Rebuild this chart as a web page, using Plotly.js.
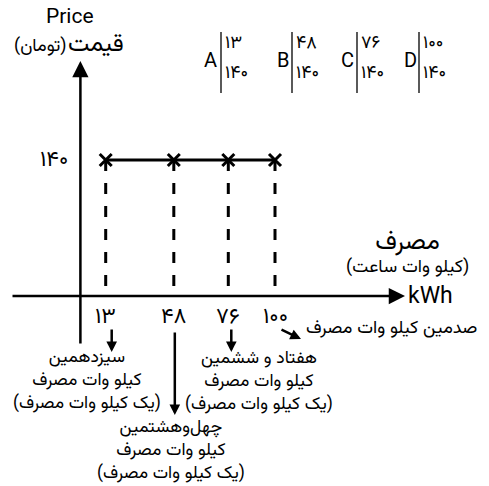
<!DOCTYPE html>
<html>
<head>
<meta charset="utf-8">
<script src="https://cdn.plot.ly/plotly-3.0.1.min.js"></script>
<style>html,body{margin:0;padding:0;background:#fff;}</style>
</head>
<body>
<div id="chart" style="width:489px;height:486px;"></div>
<script>
// ---- data ----
const consumption = [13, 48, 76, 100];
const price = [140, 140, 140, 140];
const consumptionLabels = ['۱۳', '۴۸', '۷۶', '۱۰۰'];
const priceLabel = '۱۴۰';
const pointLetters = ['A', 'B', 'C', 'D'];
const ordinalTexts = [
  ['سیزدهمین', 'کیلو وات مصرف', '(یک کیلو وات مصرف)'],
  ['چهل\u200cوهشتمین', 'کیلو وات مصرف', '(یک کیلو وات مصرف)'],
  ['هفتاد و ششمین', 'کیلو وات مصرف', '(یک کیلو وات مصرف)'],
  ['صدمین کیلو وات مصرف']
];
const yTitleLatin = 'Price';
const yTitleFa = 'قیمت';
const yUnitFa = '(تومان)';
const xTitleFa = 'مصرف';
const xUnitFa = '(کیلو وات ساعت)';
const xTitleLatin = 'kWh';

// ---- geometry helpers (layout only) ----
const W = 489, H = 486;
const OX = 80.4, KX = 1.946, OY = 296, KY = 0.9714;
const xr = [-OX / KX, (W - OX) / KX];
const yr = [-(H - OY) / KY, OY / KY];
const dx = px => (px - OX) / KX;
const dy = py => (OY - py) / KY;
const xp = px => px / W;
const yp = py => 1 - py / H;
const RLM = '\u200F';
const rtl = s => RLM + s + RLM;

const FA = 'Vazirmatn, Noto Sans Arabic, DejaVu Sans, sans-serif';
const LAT = 'Vazirmatn, Roboto, Liberation Sans, sans-serif';

const traces = [];
consumption.forEach((c, i) => {
  traces.push({
    x: [c, c], y: [price[i], 0], mode: 'lines', type: 'scatter',
    line: {color: '#000', width: 3, dash: '11px,12px'},
    hoverinfo: 'skip', showlegend: false
  });
});
traces.push({
  x: consumption, y: price, mode: 'lines+markers', type: 'scatter',
  line: {color: '#000', width: 3},
  marker: {symbol: 'x-thin', size: 12, color: '#000', line: {color: '#000', width: 3}},
  showlegend: false, hoverinfo: 'skip'
});

const ann = [];
const arrow = (x, y, ax, ay, size) => ({
  x, y, ax, ay, xref: 'x', yref: 'y', axref: 'x', ayref: 'y', text: '',
  showarrow: true, arrowhead: 2, arrowsize: size, arrowwidth: 2.5,
  arrowcolor: '#000', standoff: 0, startstandoff: 0
});
ann.push(arrow(dx(405), 0, dx(11), 0, 1.3));
ann.push(arrow(0, dy(61), 0, dy(345), 1.3));

const txt = (text, x, y, size, font, opts) => Object.assign({
  text, x, y, xref: 'paper', yref: 'paper', showarrow: false,
  xanchor: 'center', yanchor: 'middle',
  font: {family: font, size, color: '#000'}
}, opts || {});

ann.push(txt(yTitleLatin, xp(70), yp(18), 21, LAT));
ann.push(txt(yTitleFa, xp(66), yp(45), 24, FA, {xanchor: 'left'}));
ann.push(txt(rtl(yUnitFa), xp(68), yp(47), 18, FA, {xanchor: 'right'}));
ann.push(txt('<span style="font-size:25px">' + xTitleFa + '</span><br>' + rtl(xUnitFa),
  xp(407), yp(252), 18, FA));
ann.push(txt(xTitleLatin, xp(406), yp(297), 23, LAT, {xanchor: 'left'}));

ann.push({text: priceLabel, x: 0, y: price[0], xref: 'x', yref: 'y', xanchor: 'right',
  yanchor: 'middle', xshift: -10, showarrow: false, font: {family: FA, size: 22, color: '#000'}});

consumption.forEach((c, i) => {
  ann.push({text: consumptionLabels[i], x: c, y: 0, xref: 'x', yref: 'y', xanchor: 'center',
    yanchor: 'middle', yshift: -21, showarrow: false, font: {family: FA, size: 22, color: '#000'}});
});

ann.push(arrow(consumption[0] + 6 / KX, dy(352), consumption[0] + 6 / KX, dy(328), 0.85));
ann.push(arrow(consumption[1] + 1 / KX, dy(415), consumption[1] + 1 / KX, dy(331), 0.85));
ann.push(arrow(consumption[2] + 3 / KX, dy(352), consumption[2] + 3 / KX, dy(328), 0.85));
ann.push(arrow(consumption[3] + 26 / KX, dy(339), consumption[3] + 5 / KX, dy(329), 0.85));

const blockPos = [[87, 380], [171, 450], [259, 381]];
blockPos.forEach((p, i) => {
  ann.push(txt(ordinalTexts[i].map(rtl).join('<br>'), xp(p[0]), yp(p[1]), 17.5, FA));
});
ann.push(txt(rtl(ordinalTexts[3][0]), xp(304), yp(329), 18, FA, {xanchor: 'left'}));

const headerX = [[210, 221], [283, 292], [347, 357], [410, 419]];
const shapes = [];
pointLetters.forEach((L, i) => {
  const h = headerX[i];
  ann.push(txt(L, xp(h[0]), yp(62), 20, LAT));
  ann.push(txt(consumptionLabels[i], xp(h[1] + 2), yp(44), 18, FA, {xanchor: 'left'}));
  ann.push(txt(priceLabel, xp(h[1] + 2), yp(74), 18, FA, {xanchor: 'left'}));
  shapes.push({type: 'line', xref: 'paper', yref: 'paper', x0: xp(h[1]), x1: xp(h[1]),
    y0: yp(32), y1: yp(93), line: {color: '#000', width: 1.3}});
});

const layout = {
  width: W, height: H,
  margin: {l: 0, r: 0, t: 0, b: 0, pad: 0},
  paper_bgcolor: '#fff', plot_bgcolor: '#fff',
  xaxis: {range: xr, visible: false, fixedrange: true},
  yaxis: {range: yr, visible: false, fixedrange: true},
  annotations: ann, shapes: shapes, showlegend: false
};
Plotly.newPlot('chart', traces, layout, {staticPlot: true, displayModeBar: false});
</script>
</body>
</html>
